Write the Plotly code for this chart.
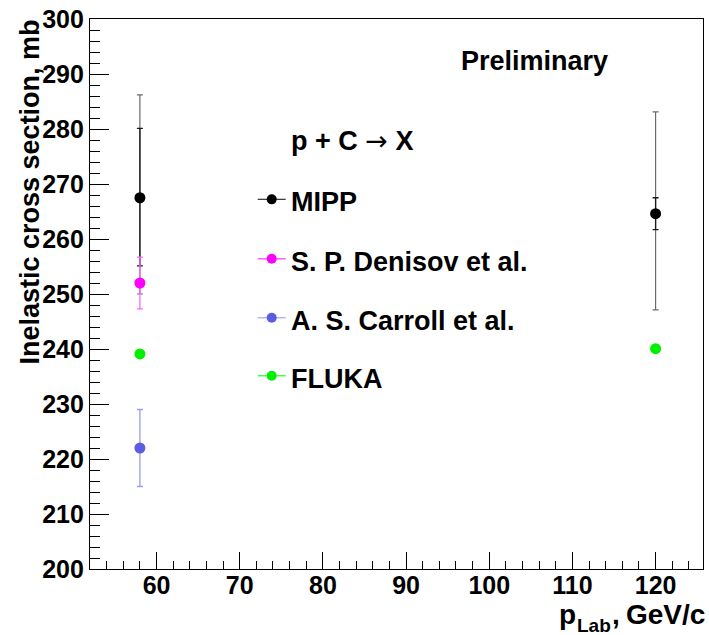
import plotly.graph_objects as go

# ---- data ----
mipp_x = [58, 120]
mipp_y = [267.5, 264.6]
mipp_stat_plus = [12.6, 2.9]
mipp_stat_minus = [12.4, 2.9]
mipp_tot_plus = [18.7, 18.5]
mipp_tot_minus = [17.5, 17.5]

denisov_x = [58]
denisov_y = [252.0]
denisov_err = [4.7]

carroll_x = [58]
carroll_y = [222.0]
carroll_err = [7.0]

fluka_x = [58, 120]
fluka_y = [239.1, 240.05]

legend_labels = ["MIPP", "S. P. Denisov et al.", "A. S. Carroll et al.", "FLUKA"]
legend_colors = ["#000000", "#ff00ff", "#5c5ce0", "#00f000"]
legend_line_colors = ["#404040", "#ff40ff", "#a8a8f4", "#30ff30"]

FONT = "Liberation Sans, Arial, Helvetica, sans-serif"
W, H = 709, 635
L, R, T, B = 90, 5, 14, 66
PW, PH = W - L - R, H - T - B


def px(x):
    return (x - L) / PW


def py(y):
    return (H - B - y) / PH


fig = go.Figure()

# MIPP total (outer) error bars
fig.add_trace(go.Scatter(
    x=mipp_x, y=mipp_y, mode="markers",
    marker=dict(size=1, color="rgba(0,0,0,0)"),
    error_y=dict(type="data", symmetric=False, array=mipp_tot_plus,
                 arrayminus=mipp_tot_minus, color="#6a6a6a", thickness=1.2, width=3),
    showlegend=False, hoverinfo="skip"))

# Carroll
fig.add_trace(go.Scatter(
    x=carroll_x, y=carroll_y, mode="markers",
    marker=dict(size=11, color=legend_colors[2], line=dict(width=0)),
    error_y=dict(type="data", array=carroll_err, color="#9c9cf0", thickness=1.3, width=3),
    showlegend=False))

# MIPP stat (inner) error bars
fig.add_trace(go.Scatter(
    x=mipp_x, y=mipp_y, mode="markers",
    marker=dict(size=1, color="rgba(0,0,0,0)"),
    error_y=dict(type="data", symmetric=False, array=mipp_stat_plus,
                 arrayminus=mipp_stat_minus, color="#1a1a1a", thickness=1.3, width=3),
    showlegend=False, hoverinfo="skip"))

# Denisov
fig.add_trace(go.Scatter(
    x=denisov_x, y=denisov_y, mode="markers",
    marker=dict(size=11, color=legend_colors[1], line=dict(width=0)),
    error_y=dict(type="data", array=denisov_err, color="#ff66ff", thickness=1.3, width=3),
    showlegend=False))

# FLUKA
fig.add_trace(go.Scatter(
    x=fluka_x, y=fluka_y, mode="markers",
    marker=dict(size=11, color=legend_colors[3], line=dict(width=0)),
    showlegend=False))

# MIPP markers on top
fig.add_trace(go.Scatter(
    x=mipp_x, y=mipp_y, mode="markers",
    marker=dict(size=11, color=legend_colors[0], line=dict(width=0)),
    showlegend=False))

annotations = []
shapes = []
bold = lambda s: dict(family=FONT, size=s, color="black", weight="bold")

# manual legend
row_y = [196, 256, 315.5, 374]
for lab, col, lcol, yy in zip(legend_labels, legend_colors, legend_line_colors, row_y):
    shapes.append(dict(type="line", xref="paper", yref="paper",
                       x0=px(258), x1=px(286), y0=py(yy), y1=py(yy),
                       line=dict(color=lcol, width=1.3)))
    shapes.append(dict(type="circle", xref="paper", yref="paper",
                       xsizemode="pixel", ysizemode="pixel",
                       xanchor=px(272), yanchor=py(yy),
                       x0=-5, x1=5, y0=-5, y1=5,
                       fillcolor=col, line=dict(width=0)))
    annotations.append(dict(text=lab, xref="paper", yref="paper",
                            x=px(289), y=py(yy + 3), xanchor="left", yanchor="middle",
                            showarrow=False, font=bold(27)))

annotations.append(dict(
    text="p + C <span style=\"font-family:'DejaVu Sans'; font-weight:normal\">\u2192</span> X",
    xref="paper", yref="paper",
    x=px(289), y=py(137), xanchor="left", yanchor="middle",
    showarrow=False, font=bold(27)))

annotations.append(dict(text="Preliminary", xref="paper", yref="paper",
                        x=px(535), y=py(56), xanchor="center", yanchor="middle",
                        showarrow=False, font=bold(27)))

# axis titles
annotations.append(dict(text="Inelastic cross section, mb", xref="paper", yref="paper",
                        x=px(30), y=py(189), xanchor="center", yanchor="middle",
                        textangle=-90, showarrow=False, font=bold(27)))
annotations.append(dict(text="p", xref="paper", yref="paper",
                        x=px(578), y=py(615), xanchor="right", yanchor="middle",
                        showarrow=False, font=bold(28), borderpad=0))
annotations.append(dict(text="Lab", xref="paper", yref="paper",
                        x=px(577), y=py(626), xanchor="left", yanchor="middle",
                        showarrow=False, font=bold(19), borderpad=0))
annotations.append(dict(text=",", xref="paper", yref="paper",
                        x=px(612), y=py(615), xanchor="left", yanchor="middle",
                        showarrow=False, font=bold(28), borderpad=0))
annotations.append(dict(text="GeV/c", xref="paper", yref="paper",
                        x=px(707), y=py(615), xanchor="right", yanchor="middle",
                        showarrow=False, font=bold(28), borderpad=0))

tickfont = bold(25)

fig.update_layout(
    width=W, height=H,
    margin=dict(l=L, r=R, t=T, b=B),
    paper_bgcolor="white", plot_bgcolor="white",
    showlegend=False,
    annotations=annotations, shapes=shapes,
    xaxis=dict(range=[52, 125.7], tick0=0, dtick=10, ticks="inside", ticklen=17,
               tickwidth=1, tickcolor="black", showline=True, linecolor="black",
               linewidth=1.3, mirror=True, showgrid=False, zeroline=False,
               tickfont=tickfont, ticklabelstandoff=-6, ticklabeloverflow="allow",
               minor=dict(dtick=2, tick0=0, ticks="inside", ticklen=8,
                          tickcolor="black", tickwidth=1, showgrid=False)),
    yaxis=dict(range=[200, 300], tick0=0, dtick=10, ticks="inside", ticklen=19,
               tickwidth=1, tickcolor="black", showline=True, linecolor="black",
               linewidth=1.3, mirror=True, showgrid=False, zeroline=False,
               tickfont=tickfont, ticklabeloverflow="allow",
               minor=dict(dtick=2, tick0=0, ticks="inside", ticklen=10,
                          tickcolor="black", tickwidth=1, showgrid=False)),
)

fig.write_html("out.html")
